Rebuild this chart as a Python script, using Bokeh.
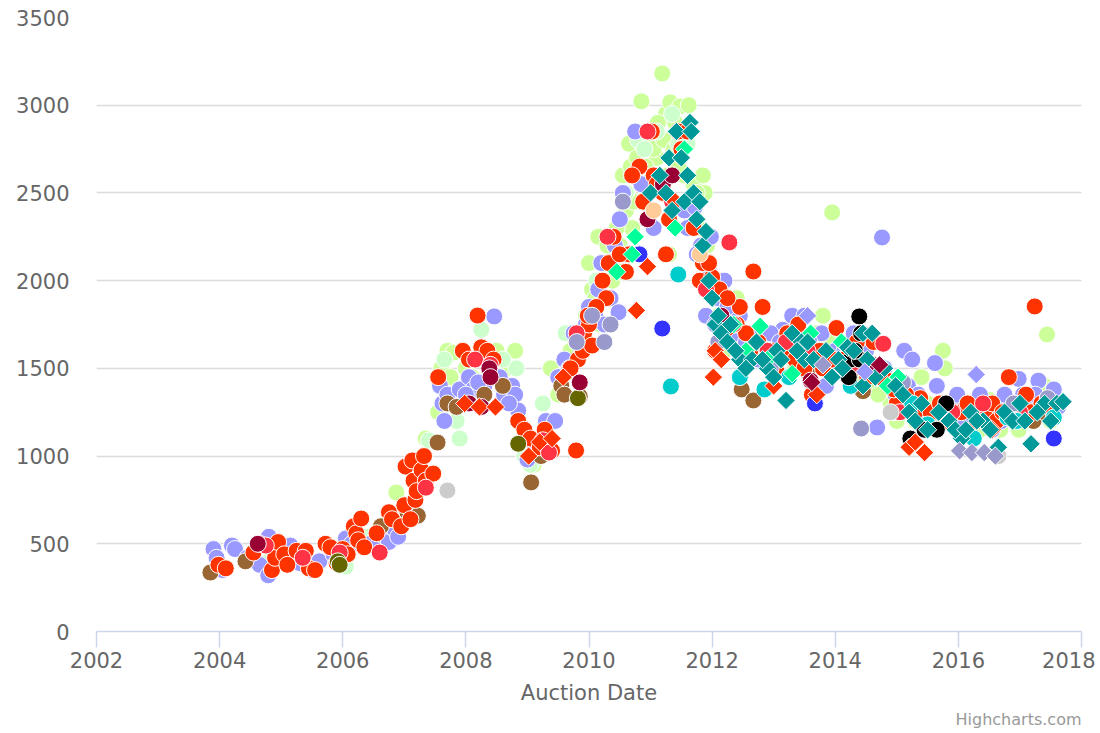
import math
from bokeh.plotting import figure
from bokeh.models import Range1d, FixedTicker, Title
from bokeh.embed import file_html
from bokeh.resources import INLINE

FONT = "DejaVu Sans"

x_ticks = [2002, 2004, 2006, 2008, 2010, 2012, 2014, 2016, 2018]
y_ticks = [0, 500, 1000, 1500, 2000, 2500, 3000, 3500]
x_title = "Auction Date"
credit = "Highcharts.com"

# ---- data: (auction date as decimal year, price) per series ----
lgreen = [(2004.50, 410), (2005.30, 410), (2006.40, 540), (2006.87, 792), (2007.35, 1100),
          (2007.60, 1500), (2007.70, 1600), (2007.80, 1590), (2008.00, 1500), (2008.40, 1600),
          (2008.50, 1600), (2008.55, 1500), (2008.80, 1600), (2009.10, 950), (2009.38, 1500),
          (2009.65, 1700), (2010.00, 2100), (2010.05, 1950), (2010.15, 2250), (2010.30, 2200),
          (2010.38, 2000), (2010.50, 2200), (2010.60, 2400), (2010.65, 2780), (2010.70, 2300),
          (2010.85, 3022), (2010.95, 2500), (2011.00, 2800), (2011.10, 2700), (2011.19, 3181),
          (2011.25, 2950), (2011.30, 2150), (2011.32, 3016), (2011.40, 2900), (2011.48, 2993),
          (2011.55, 2600), (2011.62, 3000), (2011.70, 2550), (2011.85, 2600), (2011.88, 2500),
          (2011.95, 1950), (2012.20, 1600), (2012.40, 1900), (2012.55, 1700), (2012.80, 1650),
          (2013.00, 1700), (2013.45, 1600), (2013.70, 1700), (2013.80, 1800), (2013.95, 2389),
          (2014.05, 1500), (2014.90, 1300), (2015.00, 1200), (2015.40, 1450), (2015.75, 1600),
          (2015.78, 1500), (2015.85, 1300), (2016.20, 1300), (2016.50, 1320), (2016.80, 1200),
          (2016.98, 1150), (2017.20, 1300), (2017.40, 1400), (2017.44, 1693),
          (2010.55, 2600), (2010.62, 2500), (2010.68, 2650), (2010.72, 2450), (2010.78, 2700),
          (2010.90, 2550), (2010.92, 2650), (2011.05, 2750), (2011.12, 2900), (2011.22, 2800),
          (2011.28, 2600), (2011.38, 2750), (2011.45, 2650), (2011.52, 2800), (2011.58, 2450),
          (2011.75, 2500), (2011.78, 2300), (2011.92, 2200), (2010.25, 2100), (2010.45, 2300),
          (2010.52, 2050), (2010.10, 1900), (2009.95, 1800), (2010.18, 1750), (2012.10, 1800),
          (2012.30, 1650), (2012.50, 1550), (2012.70, 1600), (2012.90, 1650), (2013.10, 1550),
          (2013.25, 1600), (2013.35, 1500), (2013.55, 1550), (2013.90, 1650), (2014.15, 1500),
          (2014.35, 1450), (2014.55, 1400), (2014.70, 1350), (2014.95, 1250), (2015.15, 1300),
          (2015.30, 1200), (2015.50, 1300), (2015.95, 1200), (2016.10, 1250), (2016.35, 1150),
          (2016.45, 1300), (2016.68, 1150), (2016.75, 1300), (2017.05, 1250), (2017.15, 1200),
          (2017.35, 1250), (2017.50, 1200), (2008.10, 1450), (2008.65, 1500), (2007.75, 1450),
          (2007.55, 1250), (2009.15, 1050), (2009.50, 1350), (2009.70, 1600)]
mint = [(2004.45, 420), (2004.80, 400), (2005.20, 410), (2006.05, 370), (2006.40, 540),
        (2006.85, 560), (2007.40, 1089), (2007.85, 1200), (2007.90, 1100), (2008.25, 1720),
        (2008.82, 1500), (2008.95, 1000), (2009.05, 950), (2009.25, 1300), (2009.62, 1700),
        (2010.12, 2000), (2010.80, 2800), (2011.35, 2950), (2011.60, 2780),
        (2010.60, 2500), (2010.90, 2750), (2011.10, 2850), (2011.45, 2780), (2008.60, 1550),
        (2007.65, 1550), (2009.05, 1050)]
lav = [(2003.90, 470), (2003.95, 420), (2004.05, 350), (2004.20, 490), (2004.25, 470),
       (2004.45, 420), (2004.65, 380), (2004.80, 540), (2004.79, 320), (2005.00, 480),
       (2005.15, 490), (2005.30, 390), (2005.50, 350), (2005.62, 400), (2005.85, 440),
       (2006.05, 530), (2006.15, 500), (2006.45, 500), (2006.55, 480), (2006.65, 550),
       (2006.75, 510), (2006.85, 580), (2006.90, 540), (2007.05, 700), (2007.25, 830),
       (2007.58, 1400), (2007.62, 1300), (2007.65, 1200), (2007.70, 1350), (2007.90, 1380),
       (2008.05, 1450), (2008.12, 1380), (2008.30, 1400), (2008.46, 1796), (2008.55, 1450),
       (2008.62, 1350), (2008.75, 1400), (2008.80, 1350), (2008.85, 1260), (2009.00, 980),
       (2009.12, 1060), (2009.30, 1200), (2009.45, 1200), (2009.60, 1550), (2009.68, 1500),
       (2009.80, 1650), (2009.88, 1600), (2010.00, 1850), (2010.10, 1800), (2010.20, 2100),
       (2010.25, 1750), (2010.35, 1900), (2010.42, 2200), (2010.48, 1820), (2010.55, 2500),
       (2010.62, 2150), (2010.75, 2850), (2010.90, 2450), (2011.05, 2300), (2011.55, 2400),
       (2011.72, 2420), (2011.82, 2200), (2011.90, 1800), (2011.98, 2250), (2012.05, 1750),
       (2012.20, 2000), (2012.28, 1650), (2012.45, 1800), (2012.60, 1700), (2012.85, 1600),
       (2013.00, 1620), (2013.15, 1720), (2013.30, 1800), (2013.50, 1800), (2013.65, 1500),
       (2013.78, 1700), (2013.85, 1400), (2014.00, 1600), (2014.10, 1500), (2014.30, 1700),
       (2014.50, 1600), (2014.68, 1163), (2014.76, 2246), (2014.90, 1400), (2015.05, 1300),
       (2015.12, 1600), (2015.25, 1550), (2015.40, 1200), (2015.62, 1530), (2015.65, 1400),
       (2015.75, 1300), (2015.90, 1300), (2016.05, 1150), (2016.25, 1300), (2016.50, 1250),
       (2016.62, 1300), (2016.70, 1200), (2016.85, 1300), (2016.98, 1440), (2017.05, 1350),
       (2017.30, 1430), (2017.50, 1340), (2017.62, 1280),
       (2010.50, 2350), (2010.70, 2600), (2010.85, 2550), (2011.60, 2300), (2011.75, 2150),
       (2011.95, 2050), (2012.10, 1900), (2012.25, 1850), (2012.40, 1700), (2012.55, 1650),
       (2012.75, 1550), (2012.95, 1700), (2013.10, 1650), (2013.40, 1700), (2013.58, 1650),
       (2013.72, 1550), (2013.92, 1500), (2014.15, 1600), (2014.35, 1550), (2014.55, 1500),
       (2014.80, 1500), (2014.98, 1350), (2015.18, 1400), (2015.35, 1350), (2015.55, 1250),
       (2015.70, 1200), (2015.98, 1350), (2016.12, 1200), (2016.35, 1350), (2016.55, 1150),
       (2016.75, 1350), (2016.90, 1250), (2017.10, 1300), (2017.25, 1350), (2017.40, 1300),
       (2017.55, 1380), (2008.00, 1350), (2008.20, 1420), (2008.70, 1300), (2009.50, 1450),
       (2009.75, 1700), (2009.95, 1750), (2010.15, 1950)]
red = [(2003.98, 380), (2004.10, 360), (2004.55, 450), (2004.65, 500), (2004.85, 350),
       (2004.90, 420), (2004.95, 510), (2005.05, 440), (2005.10, 380), (2005.25, 460),
       (2005.40, 460), (2005.45, 360), (2005.55, 350), (2005.72, 500), (2005.80, 480),
       (2005.90, 390), (2006.00, 470), (2006.08, 440), (2006.18, 600), (2006.22, 560),
       (2006.25, 520), (2006.30, 644), (2006.35, 480), (2006.55, 560), (2006.75, 680),
       (2006.80, 640), (2006.95, 600), (2007.00, 720), (2007.02, 940), (2007.10, 640),
       (2007.13, 975), (2007.15, 860), (2007.18, 750), (2007.20, 800), (2007.28, 920),
       (2007.32, 1000), (2007.35, 860), (2007.47, 900), (2007.55, 1450), (2007.95, 1600),
       (2008.05, 1550), (2008.19, 1801), (2008.25, 1620), (2008.35, 1600), (2008.45, 1550),
       (2008.85, 1200), (2008.95, 1150), (2009.05, 1100), (2009.20, 1050), (2009.28, 1150),
       (2009.40, 1030), (2009.79, 1032), (2009.82, 1550), (2009.90, 1600), (2009.92, 1700),
       (2010.00, 1750), (2010.05, 1630), (2010.22, 2000), (2010.28, 1900), (2010.40, 2250),
       (2010.60, 2050), (2010.65, 2150), (2010.82, 2650), (2010.88, 2450), (2011.02, 2850),
       (2011.05, 2600), (2011.20, 2500), (2011.25, 2150), (2011.45, 2850), (2011.60, 2850),
       (2011.80, 2000), (2011.85, 2100), (2012.00, 2020), (2012.05, 1600), (2012.45, 1850),
       (2012.67, 2052), (2012.62, 1600), (2012.82, 1850), (2013.00, 1520), (2013.05, 1480),
       (2013.22, 1700), (2013.40, 1750), (2013.45, 1650), (2013.62, 1350), (2013.80, 1500),
       (2014.02, 1730), (2014.25, 1600), (2014.62, 1650), (2014.85, 1430), (2015.00, 1300),
       (2015.38, 1330), (2015.80, 1200), (2015.92, 1250), (2016.05, 1250), (2016.42, 1250),
       (2016.62, 1200), (2016.82, 1450), (2017.18, 1250), (2017.24, 1853),
       (2010.70, 2600), (2011.10, 2550), (2011.30, 2350), (2011.50, 2750), (2011.70, 2300),
       (2011.95, 2100), (2012.12, 1950), (2012.25, 1900), (2012.40, 1750), (2012.55, 1700),
       (2012.75, 1650), (2012.95, 1600), (2013.15, 1600), (2013.35, 1550), (2013.50, 1500),
       (2013.75, 1600), (2013.95, 1550), (2014.12, 1550), (2014.35, 1650), (2014.52, 1450),
       (2014.68, 1500), (2014.95, 1380), (2015.15, 1350), (2015.30, 1250), (2015.55, 1250),
       (2015.70, 1300), (2016.15, 1300), (2016.30, 1200), (2016.55, 1300), (2016.72, 1250),
       (2016.92, 1300), (2017.10, 1350), (2017.35, 1300), (2017.48, 1280), (2009.70, 1500),
       (2009.98, 1800), (2010.12, 1850), (2010.32, 2100), (2010.50, 2150)]
crimson = [(2004.75, 490), (2005.35, 420), (2005.95, 450), (2006.60, 450), (2007.35, 820),
           (2008.15, 1550), (2008.40, 1520), (2009.25, 1090), (2009.35, 1020), (2009.80, 1700),
           (2010.30, 2250), (2010.95, 2850), (2011.35, 2450), (2011.90, 1950), (2012.28, 2218),
           (2012.35, 1750), (2012.90, 1550), (2013.55, 1600), (2014.78, 1640),
           (2012.90, 1600), (2013.20, 1650), (2014.30, 1500), (2015.05, 1250), (2015.90, 1250),
           (2016.40, 1300), (2017.00, 1250)]
brown = [(2003.85, 336), (2004.42, 400), (2006.62, 600), (2007.05, 680), (2007.22, 660),
         (2007.54, 1077), (2007.70, 1300), (2007.85, 1280), (2008.30, 1350), (2008.60, 1400),
         (2009.06, 850), (2009.22, 1000), (2009.55, 1400), (2009.60, 1350), (2009.85, 1340),
         (2012.48, 1380), (2012.67, 1317), (2014.45, 1370), (2016.40, 1230), (2016.82, 1250),
         (2017.22, 1200), (2017.40, 1250), (2013.55, 1480), (2015.60, 1250), (2016.15, 1300)]
olive = [(2005.92, 400), (2005.95, 380), (2008.85, 1070), (2009.82, 1330)]
maroon = [(2004.62, 500), (2008.05, 1300), (2008.25, 1280), (2008.38, 1500), (2008.40, 1450),
          (2009.85, 1420), (2011.20, 2550), (2013.60, 1430), (2014.60, 1520),
          (2010.95, 2350), (2011.35, 2600), (2012.15, 1800)]
turq = [(2011.33, 1397), (2011.45, 2035), (2012.45, 1450), (2012.85, 1380), (2015.50, 1180),
        (2016.25, 1100), (2016.95, 1200), (2017.55, 1220), (2013.25, 1450), (2014.25, 1400),
        (2015.25, 1300), (2016.80, 1220)]
blue = [(2010.82, 2150), (2011.19, 1727), (2013.67, 1300), (2017.55, 1100)]
black = [(2014.22, 1450), (2014.25, 1550), (2014.39, 1796), (2014.42, 1700), (2014.40, 1550),
         (2015.22, 1100), (2015.65, 1150), (2015.80, 1300), (2014.32, 1600), (2015.45, 1150)]
gray = [(2007.70, 804), (2014.90, 1250), (2016.65, 1000)]
peach = [(2011.05, 2400), (2011.80, 2150)]
graypurple = [(2009.80, 1650), (2010.05, 1800), (2010.35, 1750), (2014.42, 1157), (2015.10, 1420),
              (2010.25, 1650), (2010.55, 2450), (2012.10, 1650), (2012.95, 1500), (2016.90, 1300),
              (2017.45, 1330)]
teal_d = [(2011.00, 2500), (2011.15, 2600), (2011.30, 2700), (2011.42, 2850), (2011.50, 2700),
          (2011.55, 2450), (2011.64, 2902), (2011.66, 2850), (2011.70, 2500), (2011.75, 2350),
          (2011.85, 2200), (2011.90, 2280), (2012.00, 1900), (2012.05, 1750), (2012.15, 1700),
          (2012.30, 1750), (2012.45, 1550), (2012.65, 1550), (2012.90, 1500), (2013.05, 1600),
          (2013.20, 1317), (2013.30, 1700), (2013.45, 1650), (2013.50, 1550), (2014.05, 1550),
          (2014.20, 1620), (2014.45, 1700), (2014.60, 1700), (2014.65, 1450), (2014.45, 1400),
          (2015.20, 1250), (2015.40, 1300), (2015.85, 1200), (2016.05, 1100), (2016.20, 1250),
          (2016.40, 1200), (2016.65, 1050), (2017.00, 1300), (2017.18, 1070), (2017.40, 1300),
          (2017.60, 1300), (2017.70, 1310),
          (2011.25, 2500), (2011.35, 2400), (2011.60, 2600), (2011.80, 2450), (2011.95, 2000),
          (2012.10, 1800), (2012.25, 1650), (2012.38, 1600), (2012.55, 1500), (2012.72, 1650),
          (2012.82, 1550), (2013.00, 1450), (2013.12, 1550), (2013.38, 1600), (2013.55, 1650),
          (2013.65, 1550), (2013.85, 1600), (2013.95, 1450), (2014.12, 1500), (2014.30, 1600),
          (2014.52, 1550), (2014.80, 1500), (2014.98, 1400), (2015.10, 1350), (2015.30, 1200),
          (2015.50, 1150), (2015.68, 1250), (2015.95, 1150), (2016.12, 1150), (2016.30, 1200),
          (2016.52, 1150), (2016.75, 1250), (2016.88, 1200), (2017.08, 1200), (2017.28, 1250),
          (2017.50, 1200)]
spring_d = [(2010.45, 2050), (2010.75, 2250), (2011.55, 2750), (2012.35, 1750), (2012.55, 1600),
            (2012.78, 1740), (2013.30, 1470), (2013.60, 1700), (2014.10, 1650), (2015.02, 1450),
            (2010.70, 2150), (2011.40, 2300), (2012.90, 1550), (2014.85, 1400)]
red_d = [(2007.98, 1300), (2008.22, 1280), (2008.48, 1280), (2009.02, 1000), (2009.20, 1080),
         (2009.40, 1100), (2009.58, 1450), (2010.77, 1830), (2010.95, 2080), (2011.40, 2450),
         (2012.02, 1450), (2012.05, 1600), (2012.20, 1700), (2013.70, 1350), (2015.20, 1050),
         (2015.45, 1020), (2012.15, 1550), (2013.00, 1400), (2014.80, 1420), (2015.30, 1080),
         (2016.55, 1150)]
lav_d = [(2013.55, 1800), (2014.48, 1480), (2016.29, 1465)]
graypurple_d = [(2013.80, 1520), (2016.02, 1030), (2016.22, 1020), (2016.42, 1020), (2016.60, 1000)]
maroon_d = [(2013.62, 1420), (2014.72, 1520)]

series = [
    (lgreen, "#ccff99", "circle"), (mint, "#ccffcc", "circle"), (lav, "#9999ff", "circle"),
    (brown, "#996633", "circle"), (red, "#ff3300", "circle"), (crimson, "#ff3344", "circle"),
    (olive, "#666600", "circle"), (maroon, "#990033", "circle"), (graypurple, "#9999cc", "circle"),
    (gray, "#cccccc", "circle"), (peach, "#ffcc99", "circle"), (turq, "#00cccc", "circle"),
    (blue, "#3333ff", "circle"), (black, "#000000", "circle"),
    (red_d, "#ff3300", "diamond"), (spring_d, "#00ff99", "diamond"), (teal_d, "#009999", "diamond"),
    (lav_d, "#9999ff", "diamond"), (graypurple_d, "#9999cc", "diamond"), (maroon_d, "#990033", "diamond"),
]

p = figure(width=1095, height=732, output_backend="svg", toolbar_location=None,
           x_range=Range1d(2002, 2018), y_range=Range1d(0, 3500),
           min_border_left=96, min_border_right=14, min_border_top=17, min_border_bottom=101)
p.outline_line_color = None
p.background_fill_color = "white"
p.border_fill_color = "white"

for pts, color, kind in series:
    xs = [a for a, b in pts]
    ys = [b for a, b in pts]
    if kind == "circle":
        p.scatter(xs, ys, marker="circle", size=17, fill_color=color, line_color="white",
                  line_width=1)
    else:
        p.scatter(xs, ys, marker="square", size=13, angle=math.pi / 4, fill_color=color,
                  line_color="white", line_width=1)

# axes
p.xaxis.ticker = FixedTicker(ticks=x_ticks)
p.yaxis.ticker = FixedTicker(ticks=y_ticks)
p.xgrid.grid_line_color = None
p.ygrid.grid_line_color = "#dcdcdc"
p.ygrid.grid_line_width = 1.5

p.yaxis.axis_line_color = None
p.yaxis.major_tick_line_color = None
p.yaxis.minor_tick_line_color = None
p.yaxis.major_tick_out = 0
p.yaxis.major_label_standoff = 27
p.yaxis.major_label_text_font = FONT
p.yaxis.major_label_text_font_size = "21px"
p.yaxis.major_label_text_color = "#666666"

p.xaxis.axis_line_color = "#ccd6eb"
p.xaxis.axis_line_width = 1.5
p.xaxis.major_tick_line_color = "#ccd6eb"
p.xaxis.major_tick_line_width = 1.5
p.xaxis.major_tick_out = 16
p.xaxis.major_tick_in = 0
p.xaxis.minor_tick_line_color = None
p.xaxis.major_label_standoff = 4
p.xaxis.major_label_text_font = FONT
p.xaxis.major_label_text_font_size = "21px"
p.xaxis.major_label_text_color = "#666666"
p.xaxis.axis_label = x_title
p.xaxis.axis_label_text_font = FONT
p.xaxis.axis_label_text_font_size = "21px"
p.xaxis.axis_label_text_font_style = "normal"
p.xaxis.axis_label_text_color = "#666666"
p.xaxis.axis_label_standoff = 10

p.add_layout(Title(text=credit, align="right", text_font=FONT, text_font_size="16px",
                   text_color="#999999", text_font_style="normal", standoff=0, offset=0),
             "below")

open("out.html", "w").write(file_html(p, INLINE))
